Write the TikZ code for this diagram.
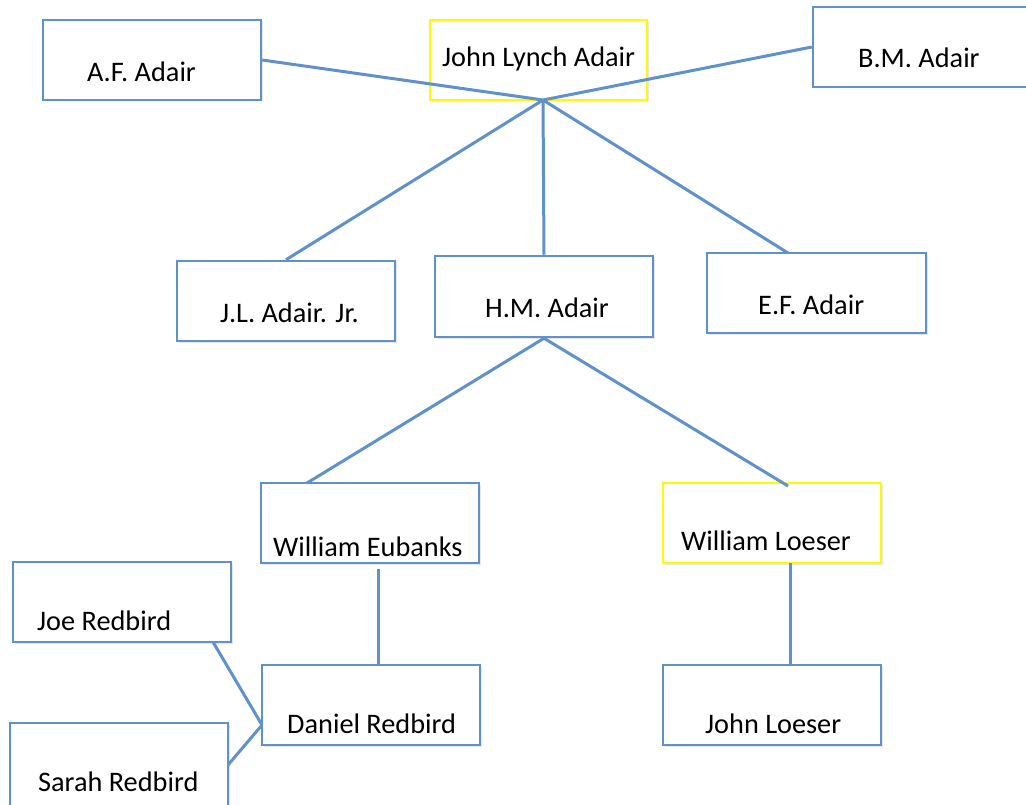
\documentclass[tikz,border=0pt]{standalone}
\usepackage{fontspec}
\setmainfont{Carlito}
\usetikzlibrary{shadows}
\definecolor{lineblue}{RGB}{96,145,203}
\definecolor{boxyellow}{RGB}{255,250,0}
\tikzset{
  box/.style={draw=lineblue, fill=white, line width=2.5pt, rectangle, inner sep=0pt,
    drop shadow={opacity=0.18, shadow xshift=1.5pt, shadow yshift=-1.5pt}},
  ybox/.style={box, draw=boxyellow},
  lbl/.style={anchor=base west, inner sep=0pt, font=\fontsize{28.3}{34}\selectfont},
  conn/.style={draw=lineblue, line width=3pt}
}
\begin{document}
\begin{tikzpicture}[x=1pt,y=-1pt]
\useasboundingbox (0,0) rectangle (1026,805);
% boxes
\node[box, minimum width=218pt, minimum height=80pt] (af) at (152,60) {};
\node[ybox, minimum width=217pt, minimum height=80pt] (jla) at (538.5,60) {};
\node[box, minimum width=217pt, minimum height=80pt] (bm) at (921.5,47) {};
\node[box, minimum width=218pt, minimum height=80pt] (jl) at (286,301) {};
\node[box, minimum width=218pt, minimum height=81pt] (hm) at (544,296.5) {};
\node[box, minimum width=219pt, minimum height=80pt] (ef) at (816.5,293) {};
\node[box, minimum width=218pt, minimum height=80pt] (we) at (370,523) {};
\node[ybox, minimum width=218pt, minimum height=80pt] (wl) at (772,523) {};
\node[box, minimum width=218pt, minimum height=80pt] (joe) at (122,602) {};
\node[box, minimum width=218pt, minimum height=80pt] (dr) at (371,705) {};
\node[box, minimum width=218pt, minimum height=80pt] (jlo) at (772,705) {};
\node[box, minimum width=218pt, minimum height=86pt] (sr) at (119,766) {};
% labels
\node[lbl] (taf) at (87,82) {A.F. Adair};
\node[lbl] (tjla) at (442,67) {John Lynch Adair};
\node[lbl] (tbm) at (858,68) {B.M. Adair};
\node[lbl] (tjl) at (220,322) {J.L. Adair. Jr.};
\node[lbl] (thm) at (485,317) {H.M. Adair};
\node[lbl] (tef) at (758,315) {E.F. Adair};
\node[lbl] (twe) at (273,556) {William Eubanks};
\node[lbl] (twl) at (681,550) {William Loeser};
\node[lbl] (tjoe) at (37,630) {Joe Redbird};
\node[lbl] (tdr) at (287,733) {Daniel Redbird};
\node[lbl] (tjlo) at (705,733) {John Loeser};
\node[lbl] (tsr) at (38,791) {Sarah Redbird};
% connection points
\coordinate (J) at (543,100);
\coordinate (efTop) at (788,253);
\coordinate (weTop) at (307,483);
\coordinate (wlTop) at (788,486);
\coordinate (weBot) at (378,569);
\coordinate (drTop) at (378,665);
\coordinate (wlBot) at (790,563);
\coordinate (jloTop) at (790,665);
\coordinate (joeBot) at (213,642);
\coordinate (drLeft) at (262,725);
\coordinate (srRight) at (228,765);
% connectors
\draw[conn] (af.east) -- (J);
\draw[conn] (bm.west) -- (J);
\draw[conn] (J) -- (jl.north);
\draw[conn] (J) -- (hm.north);
\draw[conn] (J) -- (efTop);
\draw[conn] (hm.south) -- (weTop);
\draw[conn] (hm.south) -- (wlTop);
\draw[conn] (weBot) -- (drTop);
\draw[conn] (wlBot) -- (jloTop);
\draw[conn] (joeBot) -- (drLeft);
\draw[conn] (srRight) -- (drLeft);
\end{tikzpicture}
\end{document}
